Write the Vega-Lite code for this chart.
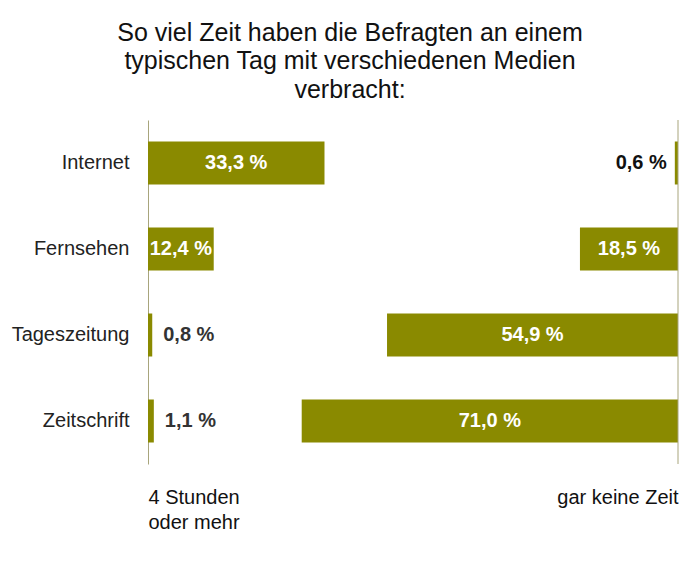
{
  "$schema": "https://vega.github.io/schema/vega-lite/v6.json",
  "width": 530,
  "height": 344,
  "autosize": {"type": "none"},
  "padding": {"left": 148, "top": 120, "right": 22, "bottom": 104},
  "background": "white",
  "config": {
    "view": {"stroke": null},
    "font": "Liberation Sans"
  },
  "title": {
    "text": ["So viel Zeit haben die Befragten an einem", "typischen Tag mit verschiedenen Medien", "verbracht:"],
    "fontSize": 25,
    "fontWeight": "normal",
    "color": "#111111",
    "lineHeight": 28.5,
    "anchor": "middle",
    "dx": -63,
    "offset": 17
  },
  "data": {
    "values": [
      {"medium": "Internet", "side": "links", "value": 33.3, "label": "33,3 %"},
      {"medium": "Fernsehen", "side": "links", "value": 12.4, "label": "12,4 %"},
      {"medium": "Tageszeitung", "side": "links", "value": 0.8, "label": "0,8 %"},
      {"medium": "Zeitschrift", "side": "links", "value": 1.1, "label": "1,1 %"},
      {"medium": "Internet", "side": "rechts", "value": 0.6, "label": "0,6 %"},
      {"medium": "Fernsehen", "side": "rechts", "value": 18.5, "label": "18,5 %"},
      {"medium": "Tageszeitung", "side": "rechts", "value": 54.9, "label": "54,9 %"},
      {"medium": "Zeitschrift", "side": "rechts", "value": 71.0, "label": "71,0 %"}
    ]
  },
  "transform": [
    {"calculate": "datum.side == 'links' ? 0 : 100 - datum.value", "as": "x0"},
    {"calculate": "datum.side == 'links' ? datum.value : 100", "as": "x1"},
    {"calculate": "(datum.x0 + datum.x1) / 2", "as": "xm"}
  ],
  "encoding": {
    "y": {
      "field": "medium",
      "type": "nominal",
      "sort": ["Internet", "Fernsehen", "Tageszeitung", "Zeitschrift"],
      "scale": {"paddingInner": 0.5, "paddingOuter": 0.25},
      "axis": {
        "title": null,
        "ticks": false,
        "labelFontSize": 20,
        "labelColor": "#222222",
        "labelPadding": 19,
        "domainColor": "#a8a57c",
        "domainWidth": 1
      }
    }
  },
  "layer": [
    {
      "mark": {"type": "bar", "color": "#8a8a00"},
      "encoding": {
        "x": {
          "field": "x0",
          "type": "quantitative",
          "scale": {"domain": [0, 100], "nice": false},
          "axis": {
            "title": null,
            "values": [0, 100],
            "domain": false,
            "ticks": false,
            "grid": false,
            "labelFlush": true,
            "labelExpr": "datum.value == 0 ? ['4 Stunden', 'oder mehr'] : 'gar keine Zeit'",
            "labelFontSize": 20,
            "labelColor": "#111111",
            "labelLineHeight": 25,
            "labelBaseline": "top",
            "labelPadding": 23
          }
        },
        "x2": {"field": "x1"}
      }
    },
    {
      "transform": [{"filter": "datum.value >= 10"}],
      "mark": {"type": "text", "color": "white", "fontWeight": "bold", "fontSize": 20, "align": "center", "baseline": "middle"},
      "encoding": {
        "x": {"field": "xm", "type": "quantitative"},
        "text": {"field": "label"}
      }
    },
    {
      "transform": [{"filter": "datum.value < 10 && datum.side == 'links'"}],
      "mark": {"type": "text", "color": "#333333", "fontWeight": "bold", "fontSize": 20, "align": "left", "baseline": "middle", "dx": 11},
      "encoding": {
        "x": {"field": "x1", "type": "quantitative"},
        "text": {"field": "label"}
      }
    },
    {
      "transform": [{"filter": "datum.value < 10 && datum.side == 'rechts'"}],
      "mark": {"type": "text", "color": "#111111", "fontWeight": "bold", "fontSize": 20, "align": "right", "baseline": "middle", "dx": -8},
      "encoding": {
        "x": {"field": "x0", "type": "quantitative"},
        "text": {"field": "label"}
      }
    },
    {
      "data": {"values": [{"pos": 100}]},
      "mark": {"type": "rule", "color": "#a8a57c", "strokeWidth": 1},
      "encoding": {
        "x": {"field": "pos", "type": "quantitative"},
        "y": null
      }
    }
  ]
}
